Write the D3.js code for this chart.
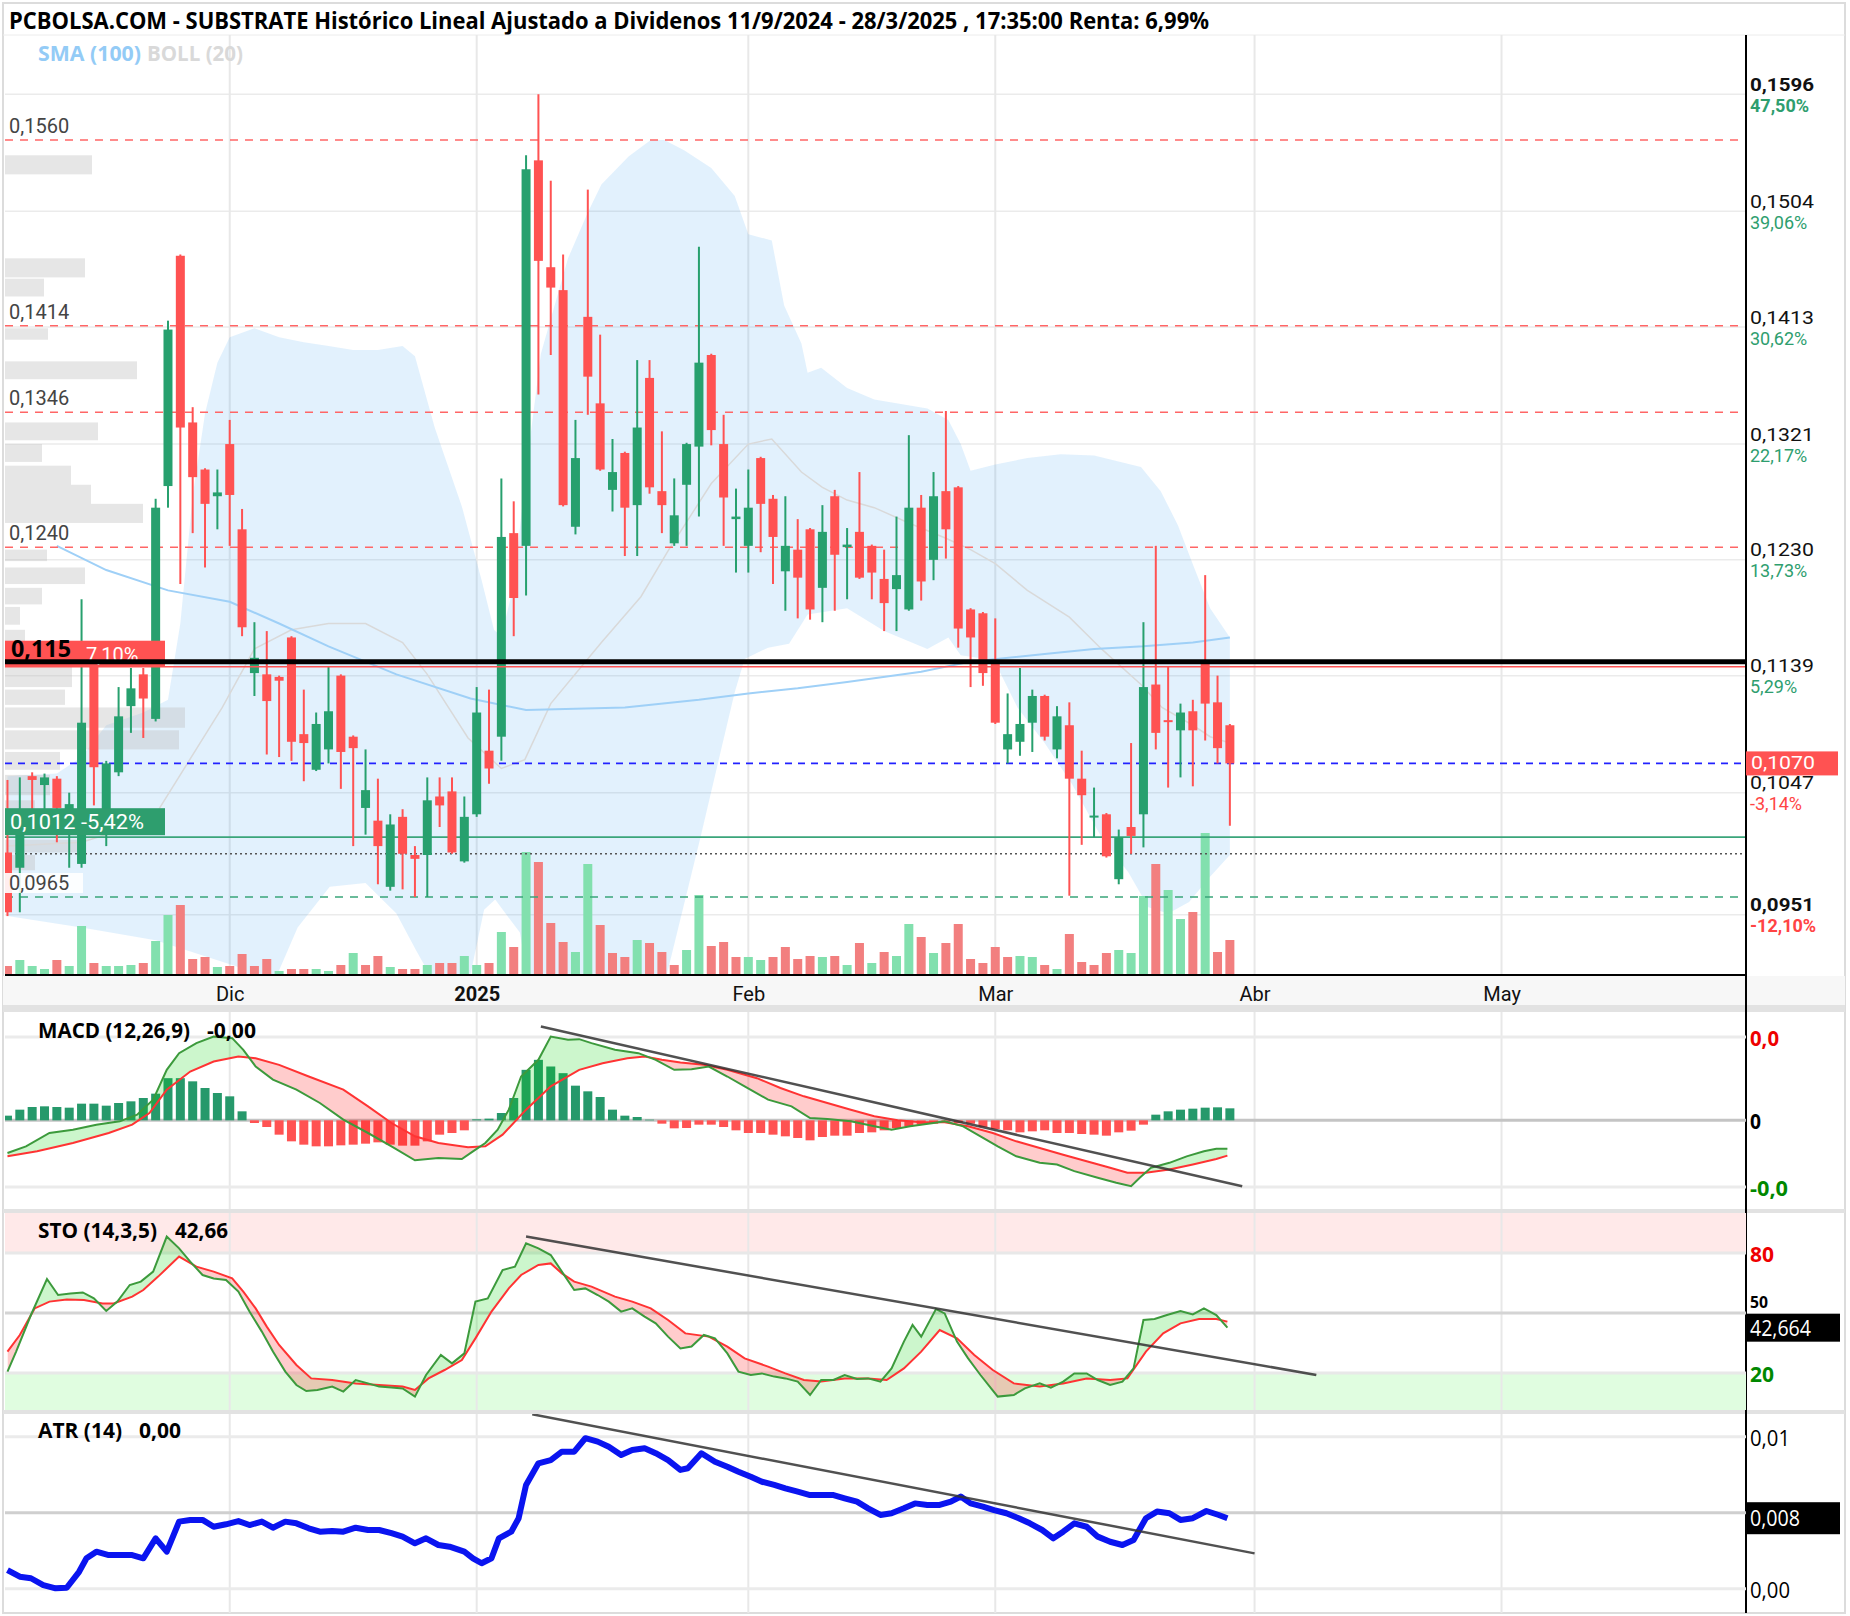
<!DOCTYPE html>
<html><head><meta charset="utf-8">
<script src="https://cdn.jsdelivr.net/npm/d3@7/dist/d3.min.js"></script>
<style>html,body{margin:0;padding:0;background:#fff}svg{display:block}</style>
</head><body>
<svg id="chart" width="1850" height="1616"></svg>
<script>
// ---------------- DATA ----------------
const titleText = "PCBOLSA.COM - SUBSTRATE Histórico Lineal Ajustado a Dividenos 11/9/2024 - 28/3/2025 , 17:35:00 Renta: 6,99%";
// trading-day index of first session of each month, and labels
const tickIdx = [18, 38, 60, 80, 101, 121];
const tickLab = ["Dic", "2025", "Feb", "Mar", "Abr", "May"];

const open = [.1000,.0988,.1060,.1053,.1058,.1030,.0991,.1148,.1015,.1063,
.1115,.1140,.1105,.1288,.1469,.1338,.1301,.1280,.1321,.1254,
.1141,.1140,.1138,.1169,.1093,.1065,.1081,.1139,.1091,.1035,
.1025,.0973,.1028,.0998,.0998,.1044,.1048,.0993,.1030,.1080,
.1091,.1251,.1241,.1544,.1460,.1442,.1256,.1421,.1353,.1285,
.1314,.1273,.1373,.1284,.1243,.1289,.1319,.1391,.1321,.1262,
.1241,.1310,.1278,.1221,.1238,.1254,.1208,.1280,.1240,.1252,
.1241,.1215,.1207,.1191,.1271,.1230,.1284,.1287,.1191,.1188,
.1151,.1081,.1087,.1102,.1123,.1081,.1100,.1058,.1028,.1030,
.0979,.1020,.1030,.1132,.1104,.1096,.1111,.1151,.1118,.1100];
const close = [.0953,.1020,.1057,.1059,.1035,.1038,.1102,.1067,.1070,.1107,
.1129,.1121,.1271,.1411,.1334,.1295,.1274,.1283,.1281,.1177,
.1153,.1119,.1135,.1087,.1086,.1101,.1111,.1079,.1082,.1049,
.1005,.1022,.0999,.0995,.1041,.1037,.1000,.1028,.1110,.1066,
.1248,.1200,.1537,.1465,.1444,.1273,.1310,.1374,.1301,.1299,
.1271,.1334,.1287,.1273,.1265,.1321,.1385,.1332,.1279,.1264,
.1271,.1274,.1248,.1241,.1216,.1191,.1252,.1234,.1242,.1216,
.1220,.1196,.1218,.1271,.1213,.1280,.1254,.1176,.1169,.1141,
.1102,.1093,.1101,.1123,.1091,.1107,.1058,.1045,.1029,.0997,
.1012,.1013,.1130,.1094,.1103,.1110,.1096,.1117,.1082,.1070];
const high = [.1057,.1059,.1063,.1062,.1060,.1047,.1199,.1152,.1072,.1130,
.1145,.1145,.1278,.1418,.1470,.1350,.1302,.1301,.1340,.1270,
.1181,.1174,.1139,.1170,.1128,.1110,.1146,.1140,.1092,.1081,
.1058,.1030,.1034,.1005,.1059,.1059,.1059,.1044,.1130,.1128,
.1294,.1276,.1548,.1596,.1528,.1470,.1340,.1521,.1407,.1325,
.1315,.1387,.1387,.1331,.1294,.1322,.1476,.1392,.1344,.1286,
.1301,.1311,.1281,.1280,.1262,.1255,.1273,.1285,.1255,.1299,
.1242,.1238,.1264,.1328,.1281,.1299,.1347,.1288,.1192,.1189,
.1184,.1125,.1145,.1128,.1124,.1115,.1118,.1080,.1051,.1031,
.1018,.1086,.1181,.1241,.1146,.1117,.1120,.1218,.1139,.1101];
const low = [.0950,.0953,.1030,.1020,.1008,.0988,.0988,.1037,.1005,.1060,
.1094,.1090,.1103,.1271,.1211,.1251,.1224,.1254,.1241,.1170,
.1123,.1077,.1075,.1072,.1056,.1064,.1070,.1050,.1005,.1014,
.0975,.0970,.0971,.0965,.0965,.1020,.0999,.0992,.1028,.1054,
.1072,.1170,.1202,.1360,.1391,.1272,.1250,.1344,.1300,.1268,
.1233,.1233,.1282,.1251,.1241,.1241,.1264,.1320,.1241,.1220,
.1220,.1236,.1211,.1190,.1184,.1183,.1181,.1190,.1199,.1215,
.1199,.1174,.1174,.1190,.1198,.1214,.1231,.1161,.1130,.1131,
.1101,.1070,.1076,.1079,.1088,.1074,.0966,.1006,.1012,.0996,
.0975,.0999,.1004,.1081,.1051,.1059,.1052,.1088,.1070,.1021];
const volume = [90000,150000,90000,60000,150000,90000,490000,120000,90000,90000,
100000,120000,340000,600000,700000,160000,180000,80000,90000,210000,
90000,160000,40000,60000,60000,60000,40000,100000,220000,100000,
190000,80000,60000,60000,100000,120000,120000,190000,100000,120000,
430000,280000,1230000,1130000,520000,330000,230000,1110000,500000,220000,
180000,350000,320000,230000,100000,250000,800000,290000,330000,180000,
180000,150000,180000,280000,160000,190000,180000,190000,100000,320000,
120000,230000,190000,510000,380000,220000,320000,510000,160000,120000,
280000,180000,190000,180000,100000,60000,410000,130000,100000,220000,
250000,220000,790000,1110000,850000,560000,630000,1420000,230000,350000];

// Bollinger (20) and SMA (100): [session index, price]
const bollUpper = [[0,.1060],[4,.1062],[6,.1075],[8,.1100],[11,.1110],[13,.1120],[14,.1180],[15,.1280],[16,.1345],[17,.1385],[18,.1405],[20,.1412],[22,.1405],[24,.1401],[26,.1398],[28,.1395],[30,.1395],[32,.1398],[33,.1390],[34.6,.1334],[36.8,.1272],[38.4,.1214],[39.4,.1175],[40,.1170],[41,.1210],[42,.1300],[43.2,.1392],[45.4,.1467],[47,.1503],[48.1,.1525],[50.3,.1547],[52.1,.1560],[53.2,.1560],[54.8,.1552],[57,.1538],[58.9,.1516],[60,.1486],[61.9,.1481],[62.9,.1430],[64.3,.1400],[64.8,.1377],[65.9,.1381],[68,.1365],[70.2,.1356],[74.5,.1349],[76.2,.1340],[77.2,.1321],[78,.1300],[80,.1305],[82.6,.1310],[85.3,.1313],[88,.1312],[91.8,.1303],[93.4,.1284],[94.8,.1257],[96.1,.1224],[97.4,.1192],[99,.1169]];
const bollLower = [[0,.0950],[6,.0941],[12,.0931],[18.7,.0910],[21,.0885],[23.5,.0941],[26.1,.0973],[29,.0976],[31.5,.0952],[33.1,.0923],[35,.0890],[37.3,.0895],[38.6,.0955],[39.5,.0963],[41.5,.0937],[42.5,.0880],[45,.0800],[48,.0770],[50,.0790],[52,.0850],[53.5,.0908],[56.2,.1015],[57.8,.1081],[58.9,.1126],[59.7,.1152],[61.6,.1161],[63.3,.1164],[64.8,.1187],[68,.1192],[71,.1174],[74.5,.1160],[76.2,.1169],[77.2,.1155],[79.9,.1151],[81.8,.1114],[84,.1086],[86.2,.1054],[88.6,.1012],[90.8,.0984],[92.4,.0957],[94,.0952],[95.7,.0961],[97.3,.0980],[99,.0998]];
const bollMid = [[0,.1005],[6,.1008],[10,.1020],[12,.1030],[17.4,.1114],[20,.1160],[23,.1175],[26,.1180],[29,.1180],[32,.1165],[34,.1140],[37.3,.1090],[40,.1066],[41.9,.1073],[44,.1117],[48.1,.1165],[51.3,.1201],[53.5,.1237],[57,.1290],[60,.1321],[61.9,.1325],[64.3,.1299],[66,.1287],[68,.1277],[70.2,.1271],[73,.1259],[76,.1247],[78,.1238],[80,.1227],[82.6,.1206],[86,.1185],[88.6,.1160],[91.8,.1132],[93.5,.1114],[96,.1100],[97.4,.1091],[99,.1086]];
const sma100 = [[4,.1241],[8,.1222],[13,.1206],[18,.1197],[22,.1180],[26,.1162],[31.5,.1140],[37.5,.1121],[42,.1112],[46,.1113],[50,.1114],[56,.1120],[60,.1125],[64,.1129],[68,.1134],[74,.1142],[78,.1150],[84,.1156],[88,.1160],[92,.1162],[96,.1165],[99,.1169]];

// volume profile on the left: price high, price low, relative volume
const vpHi  = [.1548,.1467,.1451,.1412,.1386,.1338,.1321,.1304,.1289,.1274,.1238,.1224,.1208,.1193,.1175,.1146,.1128,.1114,.1096,.1079,.1061,.1041,.1010,.0998];
const vpLo  = [.1533,.1452,.1437,.1403,.1372,.1324,.1307,.1289,.1274,.1259,.1229,.1211,.1195,.1179,.1162,.1130,.1116,.1098,.1081,.1065,.1045,.1029,.1000,.0986];
const vpVol = [87,80,39,43,132,93,37,66,86,138,42,80,37,15,20,67,60,180,174,55,45,30,79,30];

// horizontal levels
const resistanceLevels = [0.1560, 0.1414, 0.1346, 0.1240];
const supportLevels = [0.0965];
const keyLevel = 0.1150;          // thick black
const redLevel = 0.1146;          // "7,10%"
const greenLevel = 0.1012;        // "-5,42%"
const dottedLevel = 0.0999;
const lastPrice = 0.1070;

// right price axis
const priceTicks = [0.1596,0.1504,0.1413,0.1321,0.1230,0.1139,0.1047,0.0951];
const priceTickPct = ["47,50%","39,06%","30,62%","22,17%","13,73%","5,29%","-3,14%","-12,10%"];

// MACD (12,26,9), values in thousandths
const macdLine = [[0,-1.96],[1.5,-1.56],[3.4,-0.76],[5.3,-0.56],[7.2,-0.26],[9.1,-0.06],[10.5,0.34],[11.8,1.24],[12.9,3.03],[13.9,4.03],[15.3,4.63],[16.7,5.03],[18.2,4.93],[19.1,4.23],[20.1,3.23],[21.5,2.44],[23.4,1.84],[25.3,1.04],[27.2,0.04],[29.2,-0.76],[31.1,-1.56],[33,-2.40],[34.9,-2.26],[36.8,-2.32],[37.7,-1.86],[38.7,-1.36],[39.7,-0.56],[40.6,0.64],[41.6,2.63],[43,3.63],[44,5.03],[45.4,4.83],[46.3,4.87],[47.3,4.63],[49.2,4.23],[51.1,4.03],[52.5,3.63],[54,3.03],[55.4,3.07],[56.8,3.23],[58.3,2.63],[59.7,2.04],[61.6,1.24],[63.5,0.84],[65,0.14],[66.4,0.08],[68.3,-0.06],[70.2,-0.36],[71.6,-0.56],[73.1,-0.36],[75,-0.16],[75.9,-0.06],[77.4,-0.36],[78.8,-0.96],[80.2,-1.56],[81.7,-2.16],[83.6,-2.55],[85,-2.65],[86.4,-3.05],[88.3,-3.45],[89.8,-3.75],[91,-3.95],[91.7,-3.45],[92.6,-2.85],[94.1,-2.55],[95.5,-2.16],[96.9,-1.86],[97.9,-1.70],[98.8,-1.70]];
const macdSignal = [[0,-2.16],[2.4,-1.86],[5.3,-1.36],[8.2,-0.76],[10.1,-0.26],[11.5,0.44],[12.9,1.84],[14.8,2.93],[16.7,3.53],[18.7,3.83],[20.1,3.73],[22,3.33],[24.4,2.63],[27.2,1.84],[29.2,0.84],[31.1,-0.16],[33,-0.96],[34.9,-1.36],[37.3,-1.62],[38.7,-1.56],[40.1,-0.86],[42,0.64],[44,2.04],[46.3,3.03],[48.2,3.43],[50.2,3.73],[51.6,3.83],[53,3.63],[54.5,3.47],[56.4,3.33],[58.3,3.03],[60.7,2.53],[62.6,1.94],[64.5,1.44],[66.4,1.04],[68.3,0.64],[70.2,0.24],[72.1,0.00],[74,-0.12],[75.9,-0.12],[77.8,-0.36],[79.8,-0.76],[81.7,-1.26],[83.6,-1.66],[85.5,-2.06],[87.4,-2.46],[89.3,-2.85],[90.7,-3.15],[92.2,-3.15],[94.1,-2.95],[96,-2.65],[97.9,-2.32],[98.8,-2.12]];
const macdHist = [0.28,0.64,0.80,0.84,0.80,0.76,1.00,1.00,0.88,1.04,
1.14,1.34,1.60,2.53,2.53,2.34,1.94,1.64,1.44,0.54,
-0.16,-0.40,-0.86,-1.26,-1.46,-1.56,-1.56,-1.50,-1.46,-1.40,
-1.32,-1.46,-1.52,-1.52,-1.26,-0.86,-0.76,-0.60,0.06,0.10,
0.44,1.34,3.03,3.63,3.23,2.83,2.08,1.74,1.40,0.64,
0.28,0.20,0.04,-0.20,-0.48,-0.46,-0.26,-0.26,-0.40,-0.60,
-0.76,-0.76,-0.86,-0.96,-1.06,-1.20,-1.00,-0.92,-0.92,-0.76,
-0.72,-0.60,-0.46,-0.36,-0.26,-0.20,-0.12,-0.16,-0.20,-0.40,
-0.52,-0.60,-0.72,-0.66,-0.60,-0.76,-0.76,-0.82,-0.86,-0.92,
-0.72,-0.62,-0.26,0.34,0.54,0.64,0.70,0.76,0.78,0.72];
const macdTrend = [[43.2,5.63],[100,-3.95]];
const macdGrid = [5, 0, -4];
const macdGridLab = ["0,0", "0", "-0,0"];

// Stochastic (14,3,5)
const stoK = [[0,20.7],[0.7,30.7],[1.9,49.0],[3.2,67.0],[4.1,59.0],[5.1,59.8],[6.1,60.3],[7,57.3],[8,51.0],[8.9,55.7],[9.9,64.0],[10.8,65.7],[11.8,70.7],[12.9,88.2],[13.9,82.3],[14.8,75.7],[15.8,69.0],[16.7,67.3],[17.7,66.5],[18.7,60.7],[19.6,50.7],[20.6,40.7],[21.5,30.7],[22.5,20.7],[23.4,14.0],[24.2,11.0],[25.1,11.5],[26.3,13.2],[27.2,10.7],[28.2,16.5],[29.2,14.8],[30.1,13.2],[31.1,12.7],[32,12.3],[33,8.2],[33.9,19.0],[35.1,29.0],[36,24.8],[37,29.8],[37.9,55.7],[38.9,57.3],[40.1,71.5],[41.1,73.2],[42,84.8],[43,82.3],[44,79.0],[44.9,70.7],[45.9,61.5],[46.8,62.3],[47.8,59.0],[48.7,55.7],[49.7,50.7],[50.6,52.3],[51.6,48.2],[52.5,44.8],[53.5,38.2],[54.5,32.3],[55.4,33.2],[56.4,39.0],[57.3,37.3],[58.3,29.8],[59.2,20.7],[60.2,19.0],[61.1,19.8],[62.1,18.2],[63,17.3],[64,15.7],[65,9.0],[65.9,16.5],[66.9,16.5],[67.8,19.0],[68.8,17.0],[69.7,17.3],[70.7,15.7],[71.6,22.3],[72.6,35.7],[73.3,44.0],[74,38.2],[75.2,52.0],[75.9,49.8],[76.9,35.7],[77.8,27.3],[78.8,19.0],[80.2,8.2],[81.5,9.0],[82.4,12.3],[83.6,14.8],[84.5,12.7],[85.5,15.7],[86.4,19.8],[87.4,19.8],[88.3,16.5],[89.3,14.0],[90.3,15.7],[91.2,22.3],[92,46.5],[92.9,47.0],[93.9,49.0],[95,51.0],[96,49.3],[96.9,52.3],[97.9,49.0],[98.8,42.7]];
const stoD = [[0,30.7],[1,39.0],[2.2,52.3],[3.4,55.7],[4.8,56.8],[6.2,56.5],[7.7,54.8],[8.6,54.8],[10.1,58.2],[11,61.5],[12.2,68.2],[13.9,78.2],[15.3,73.2],[16.7,70.7],[18.2,67.3],[19.1,60.7],[20.1,52.3],[21,43.2],[22,34.0],[23.4,24.0],[24.6,17.3],[26.3,16.5],[28.2,14.8],[30.1,14.0],[32,13.2],[33,11.5],[34.1,17.3],[35.4,21.5],[36.8,26.5],[37.9,37.3],[39.2,50.7],[40.6,62.3],[41.6,69.0],[43,74.0],[44,74.8],[44.9,69.8],[45.9,65.7],[47.3,63.2],[49.2,58.2],[50.6,55.7],[52.1,52.3],[53.5,46.5],[54.9,39.8],[56.8,38.2],[58.3,33.2],[59.7,27.3],[61.6,23.2],[63,19.8],[64.5,16.5],[65.9,15.7],[67.8,17.3],[69.7,17.3],[71.2,16.5],[72.6,22.3],[74,30.7],[75.5,41.5],[76.9,37.3],[78.3,29.0],[79.8,21.5],[81.5,14.8],[83.6,13.2],[85.5,14.8],[87.4,17.3],[89.3,16.5],[90.7,17.3],[92.2,30.7],[93.6,39.8],[95,44.8],[96.5,47.0],[97.9,47.0],[98.8,45.7]];
const stoTrend = [[42,88.2],[106,19]];
const stoGrid = [80, 50, 20];
const stoGridLab = ["80", "50", "20"];

// ATR (14)
const atr = [[0,.00498],[1,.00463],[1.9,.00455],[2.9,.00419],[3.9,.00402],[4.8,.00405],[5.8,.00489],[6.4,.00560],[7.2,.00595],[8.2,.00577],[9.1,.00577],[10.1,.00577],[11,.00560],[12,.00665],[12.9,.00595],[13.9,.00753],[14.8,.00762],[15.8,.00762],[16.7,.00726],[17.7,.00739],[18.7,.00756],[19.6,.00735],[20.6,.00753],[21.5,.00721],[22.5,.00753],[23.4,.00744],[24.4,.00718],[25.3,.00700],[26.3,.00704],[27.2,.00700],[28.2,.00721],[29.2,.00709],[30.1,.00709],[31.1,.00692],[32,.00674],[33,.00639],[33.9,.00665],[34.9,.00630],[35.8,.00621],[37,.00595],[37.7,.00560],[38.4,.00534],[39.2,.00560],[39.8,.00665],[40.8,.00700],[41.4,.00771],[42,.00946],[43,.01060],[44,.01077],[44.9,.01121],[45.9,.01121],[46.8,.01192],[47.8,.01174],[48.7,.01147],[49.7,.01104],[50.6,.01130],[51.6,.01139],[52.5,.01113],[53.5,.01077],[54.5,.01025],[55.1,.01034],[56.2,.01113],[57.3,.01068],[58.3,.01042],[59.2,.01016],[60.2,.00989],[61.1,.00963],[62.1,.00946],[63,.00928],[64,.00911],[65,.00893],[65.9,.00893],[66.9,.00893],[67.8,.00876],[68.8,.00858],[69.7,.00823],[70.7,.00788],[71.6,.00797],[72.6,.00823],[73.5,.00849],[74.5,.00841],[75.5,.00841],[76.4,.00858],[77.2,.00885],[78,.00849],[79,.00832],[79.9,.00814],[80.9,.00797],[81.9,.00771],[82.8,.00744],[83.8,.00709],[84.7,.00665],[85.5,.00700],[86.4,.00744],[87.4,.00726],[88.3,.00674],[89.3,.00647],[90.3,.00630],[91.2,.00656],[92.2,.00771],[93.1,.00806],[94.1,.00797],[95,.00762],[96,.00771],[97.1,.00809],[98.1,.00788],[98.8,.00771]];
const atrTrend = [[42.5,.01318],[101,.00586]];
const atrGrid = [0.012, 0.008, 0.004];
const atrGridLab = ["0,01", "", "0,00"];

// ---------------- DRAW ----------------
const svg = d3.select('#chart');
const defs = svg.append('defs');
const L = 5, R = 1746;
const GREEN = '#27a06e', RED = '#ff5252';
const fmt4 = d3.formatLocale({decimal: ",", thousands: ".", grouping: [3], currency: ["", "€"]}).format(".4f");

const xS = d3.scaleLinear().domain([-0.2, 140.8]).range([L, R]);
const yP = d3.scaleLinear().domain([0.1560, 0.0965]).range([140, 897]);
const yV = d3.scaleLinear().domain([0, 1500000]).range([975, 825]);
const wVP = d3.scaleLinear().domain([0, 180]).range([0, 180]);
const yM = d3.scaleLinear().domain([5, -4]).range([1037, 1187]);
const yS = d3.scaleLinear().domain([100, 0]).range([1213, 1413]);
const yA = d3.scaleLinear().domain([0.012, 0.004]).range([1436.7, 1588.7]);

function clip(id, x, y, w, h) {
  defs.append('clipPath').attr('id', id).append('rect').attr('x', x).attr('y', y).attr('width', w).attr('height', h);
}
clip('cMain', L, 35, R - L, 940);
clip('cMacd', L, 1012, R - L, 197);
clip('cSto', L, 1213, R - L, 197);
clip('cAtr', L, 1414, R - L, 199);

function txt(g, x, y, s, o) {
  o = o || {};
  const t = g.append('text').attr('x', x).attr('y', y).text(s)
    .attr('font-family', o.ff || 'Roboto, sans-serif')
    .attr('font-size', o.fs || 20)
    .attr('font-weight', o.fw || 'normal')
    .attr('fill', o.fill || '#000')
    .attr('dominant-baseline', 'central')
    .attr('text-anchor', o.ta || 'start');
  if (o.tl) t.attr('textLength', o.tl).attr('lengthAdjust', 'spacingAndGlyphs');
  return t;
}
const COND = "'Open Sans', 'DejaVu Sans', sans-serif";

// background & frame
svg.append('rect').attr('x', 0).attr('y', 0).attr('width', 1850).attr('height', 1616).attr('fill', '#fff');
svg.append('rect').attr('x', 3).attr('y', 3).attr('width', 1842).attr('height', 1610).attr('fill', 'none').attr('stroke', '#dcdcdc').attr('stroke-width', 2);

// title
txt(svg, 9, 20, titleText, {ff: COND, fw: 'bold', fs: 23, tl: 1200});
svg.append('line').attr('x1', 3).attr('x2', 1845).attr('y1', 35).attr('y2', 35).attr('stroke', '#ececec').attr('stroke-width', 1);

// x-axis label row and panel separators
svg.append('rect').attr('x', 3).attr('y', 976).attr('width', 1842).attr('height', 29).attr('fill', '#f7f7f7');
[[1005, 7], [1209, 4], [1410, 4]].forEach(s => {
  svg.append('rect').attr('x', 3).attr('y', s[0]).attr('width', 1842).attr('height', s[1]).attr('fill', '#e2e2e2');
});

// ---------- main panel ----------
const main = svg.append('g').attr('clip-path', 'url(#cMain)');
main.selectAll('.hg').data(priceTicks).enter().append('line')
  .attr('x1', L).attr('x2', R).attr('y1', d => yP(d)).attr('y2', d => yP(d))
  .attr('stroke', '#ebebeb').attr('stroke-width', 1.5);
function vgrid(g, y1, y2) {
  g.selectAll(null).data(tickIdx).enter().append('line')
    .attr('x1', d => xS(d)).attr('x2', d => xS(d)).attr('y1', y1).attr('y2', y2)
    .attr('stroke', '#e8e8e8').attr('stroke-width', 2);
}
vgrid(main, 35, 975);

// Bollinger band fill
const bandPts = bollUpper.map(d => [xS(d[0]), yP(d[1])])
  .concat(bollLower.slice().reverse().map(d => [xS(d[0]), yP(d[1])]));
main.append('path').attr('d', d3.line()(bandPts) + 'Z').attr('fill', 'rgba(33,150,243,0.13)');

// volume profile
main.selectAll('.vp').data(vpVol).enter().append('rect')
  .attr('x', L).attr('y', (d, i) => yP(vpHi[i]))
  .attr('width', d => wVP(d)).attr('height', (d, i) => yP(vpLo[i]) - yP(vpHi[i]))
  .attr('fill', 'rgba(190,190,190,0.38)');

// Bollinger middle & SMA100
const lineP = d3.line().x(d => xS(d[0])).y(d => yP(d[1]));
main.append('path').attr('d', lineP(bollMid)).attr('fill', 'none').attr('stroke', '#d9d9d9').attr('stroke-width', 1.5);
main.append('path').attr('d', lineP(sma100)).attr('fill', 'none').attr('stroke', '#9fd0f7').attr('stroke-width', 2);

// volume bars
main.selectAll('.vol').data(volume).enter().append('rect')
  .attr('x', (d, i) => xS(i) - 4.5).attr('width', 9)
  .attr('y', d => yV(d)).attr('height', d => yV(0) - yV(d))
  .attr('fill', (d, i) => close[i] >= (i ? close[i - 1] : open[i]) ? '#82e0ae' : '#f27f7f');

// level lines
main.selectAll('.res').data(resistanceLevels).enter().append('line')
  .attr('x1', L).attr('x2', R).attr('y1', d => yP(d)).attr('y2', d => yP(d))
  .attr('stroke', '#ff6666').attr('stroke-width', 1.5).attr('stroke-dasharray', '8,7');
main.selectAll('.sup').data(supportLevels).enter().append('line')
  .attr('x1', L).attr('x2', R).attr('y1', d => yP(d)).attr('y2', d => yP(d))
  .attr('stroke', '#3aa57a').attr('stroke-width', 1.5).attr('stroke-dasharray', '8,7');
function hline(p, col, w, dash) {
  const l = main.append('line').attr('x1', L).attr('x2', R).attr('y1', yP(p)).attr('y2', yP(p))
    .attr('stroke', col).attr('stroke-width', w);
  if (dash) l.attr('stroke-dasharray', dash);
}
hline(lastPrice, '#2222ff', 1.8, '7,6');
hline(greenLevel, '#3aa57a', 1.8);
hline(dottedLevel, '#555', 1.5, '2,3');

// candles
const cg = main.append('g');
d3.range(open.length).forEach(i => {
  const col = close[i] >= open[i] ? GREEN : RED;
  cg.append('line').attr('x1', xS(i)).attr('x2', xS(i)).attr('y1', yP(high[i])).attr('y2', yP(low[i]))
    .attr('stroke', col).attr('stroke-width', 2);
  const top = yP(Math.max(open[i], close[i])), bot = yP(Math.min(open[i], close[i]));
  cg.append('rect').attr('x', xS(i) - 4.5).attr('width', 9).attr('y', top).attr('height', Math.max(2, bot - top)).attr('fill', col);
});

hline(redLevel, '#ff5252', 1.5);

// left labels for levels
resistanceLevels.concat(supportLevels).forEach(p => {
  main.append('rect').attr('x', L).attr('y', yP(p) - 24).attr('width', 78).attr('height', 20).attr('fill', '#fff').attr('opacity', 0.9);
  txt(main, 9, yP(p) - 14, fmt4(p), {fs: 20, fill: '#444'});
});
// red "7,10%" box with black "0,115"
main.append('rect').attr('x', L).attr('y', yP(redLevel) - 26).attr('width', 160).attr('height', 26).attr('fill', RED);
txt(main, 86, yP(redLevel) - 12, "7,10%", {fs: 20, fill: '#fff'});
main.append('line').attr('x1', L).attr('x2', R).attr('y1', yP(keyLevel)).attr('y2', yP(keyLevel)).attr('stroke', '#000').attr('stroke-width', 5);
txt(main, 11, yP(keyLevel) - 14, "0,115", {ff: COND, fw: 'bold', fs: 23, tl: 60});
// green box
main.append('rect').attr('x', L).attr('y', yP(greenLevel) - 29).attr('width', 160).attr('height', 27).attr('fill', '#2e9e6e');
txt(main, 10, yP(greenLevel) - 15, fmt4(greenLevel) + "  -5,42%", {fs: 21, fill: '#fff', tl: 134});

// legend
txt(svg, 38, 52, "SMA (100)", {ff: COND, fw: 'bold', fs: 22, fill: '#93cbf6', tl: 103});
txt(svg, 147, 52, "BOLL (20)", {ff: COND, fw: 'bold', fs: 22, fill: '#d9d9d9', tl: 96});

// x axis
svg.append('line').attr('x1', L).attr('x2', R).attr('y1', 975).attr('y2', 975).attr('stroke', '#000').attr('stroke-width', 2);
const xAxis = d3.axisBottom(xS).tickValues(tickIdx).tickFormat((d, i) => tickLab[i]).tickSize(0).tickPadding(0);
const xg = svg.append('g').attr('transform', 'translate(0,986)').call(xAxis);
xg.select('.domain').remove();
xg.selectAll('text').attr('font-family', 'Roboto, sans-serif').attr('font-size', 20).attr('fill', '#111')
  .attr('dy', '0.75em').attr('font-weight', (d, i) => tickLab[i] === '2025' ? 'bold' : 'normal');

// right axis
svg.append('line').attr('x1', R).attr('x2', R).attr('y1', 35).attr('y2', 1613).attr('stroke', '#000').attr('stroke-width', 2);
priceTicks.forEach((p, i) => {
  const edge = (i === 0 || i === priceTicks.length - 1);
  txt(svg, 1750, yP(p) - 10, fmt4(p), {fs: 18, fw: edge ? 'bold' : 'normal', fill: '#111', tl: 64});
  txt(svg, 1750, yP(p) + 11, priceTickPct[i], {fs: 18, fw: edge ? 'bold' : 'normal', fill: priceTickPct[i][0] === '-' ? '#ff4444' : '#2e9e6e'});
});
svg.append('rect').attr('x', R).attr('y', yP(lastPrice) - 12).attr('width', 92).attr('height', 24).attr('fill', RED);
txt(svg, 1751, yP(lastPrice) - 1, fmt4(lastPrice), {fs: 18, fill: '#fff', tl: 64});

// ---------- helper: fill between two lines ----------
function fillBetween(g, A, B, ys, top, bot, id) {
  const below = arr => d3.area().x(d => xS(d[0])).y0(bot).y1(d => ys(d[1]))(arr);
  const above = arr => d3.area().x(d => xS(d[0])).y0(top).y1(d => ys(d[1]))(arr);
  defs.append('clipPath').attr('id', id + 'a').append('path').attr('d', above(B));
  defs.append('clipPath').attr('id', id + 'b').append('path').attr('d', above(A));
  g.append('path').attr('d', below(A)).attr('fill', 'rgba(0,210,0,0.2)').attr('clip-path', `url(#${id}a)`);
  g.append('path').attr('d', below(B)).attr('fill', 'rgba(255,0,0,0.2)').attr('clip-path', `url(#${id}b)`);
}

// ---------- MACD ----------
const mg = svg.append('g').attr('clip-path', 'url(#cMacd)');
vgrid(mg, 1012, 1209);
mg.selectAll(null).data(macdGrid).enter().append('line')
  .attr('x1', L).attr('x2', R).attr('y1', d => yM(d)).attr('y2', d => yM(d))
  .attr('stroke', d => d === 0 ? '#c4c4c4' : '#ebebeb').attr('stroke-width', 3);
mg.selectAll('.hb').data(macdHist).enter().append('rect')
  .attr('x', (d, i) => xS(i) - 4.5).attr('width', 9)
  .attr('y', d => Math.min(yM(d), yM(0))).attr('height', d => Math.abs(yM(d) - yM(0)))
  .attr('fill', d => d >= 0 ? '#26996b' : '#ff5252');
fillBetween(mg, macdLine, macdSignal, yM, 1012, 1209, 'fm');
const lineM = d3.line().x(d => xS(d[0])).y(d => yM(d[1]));
mg.append('path').attr('d', lineM(macdSignal)).attr('fill', 'none').attr('stroke', '#ff3333').attr('stroke-width', 2);
mg.append('path').attr('d', lineM(macdLine)).attr('fill', 'none').attr('stroke', '#3c9a3c').attr('stroke-width', 2);
mg.append('path').attr('d', lineM(macdTrend)).attr('stroke', '#333').attr('stroke-width', 2.5).attr('opacity', 0.85);
txt(svg, 38, 1030, "MACD (12,26,9)", {ff: COND, fw: 'bold', fs: 21, tl: 152});
txt(svg, 207, 1030, "-0,00", {ff: COND, fw: 'bold', fs: 21, tl: 49});
macdGrid.forEach((v, i) => {
  txt(svg, 1750, yM(v), macdGridLab[i], {ff: COND, fw: 'bold', fs: 22, fill: ['#ee0000', '#000', '#008800'][i], tl: [29, 11, 38][i]});
});

// ---------- STO ----------
const sg = svg.append('g').attr('clip-path', 'url(#cSto)');
sg.append('rect').attr('x', L).attr('y', yS(100)).attr('width', R - L).attr('height', yS(80) - yS(100)).attr('fill', '#ffe9e9');
sg.append('rect').attr('x', L).attr('y', yS(20)).attr('width', R - L).attr('height', yS(0) - yS(20)).attr('fill', '#e0fde0');
vgrid(sg, 1213, 1410);
sg.selectAll(null).data(stoGrid).enter().append('line')
  .attr('x1', L).attr('x2', R).attr('y1', d => yS(d)).attr('y2', d => yS(d))
  .attr('stroke', d => d === 50 ? '#d4d4d4' : '#e8e8e8').attr('stroke-width', 3);
fillBetween(sg, stoK, stoD, yS, 1213, 1413, 'fs');
const lineS = d3.line().x(d => xS(d[0])).y(d => yS(d[1]));
sg.append('path').attr('d', lineS(stoD)).attr('fill', 'none').attr('stroke', '#ff3333').attr('stroke-width', 2);
sg.append('path').attr('d', lineS(stoK)).attr('fill', 'none').attr('stroke', '#3c9a3c').attr('stroke-width', 2);
sg.append('path').attr('d', lineS(stoTrend)).attr('stroke', '#333').attr('stroke-width', 2.5).attr('opacity', 0.85);
txt(svg, 38, 1230, "STO (14,3,5)", {ff: COND, fw: 'bold', fs: 21, tl: 119});
txt(svg, 175, 1230, "42,66", {ff: COND, fw: 'bold', fs: 21, tl: 53});
stoGrid.forEach((v, i) => {
  const isMid = v === 50;
  txt(svg, 1750, isMid ? yS(v) - 11 : yS(v), stoGridLab[i], {ff: COND, fw: 'bold', fs: isMid ? 16 : 22, fill: ['#ee0000', '#000', '#008800'][i], tl: isMid ? 18 : 24});
});
svg.append('rect').attr('x', R).attr('y', yS(42.66) - 14).attr('width', 94).attr('height', 28).attr('fill', '#000');
txt(svg, 1750, yS(42.66), "42,664", {ff: COND, fs: 21, fill: '#fff', tl: 61});

// ---------- ATR ----------
const ag = svg.append('g').attr('clip-path', 'url(#cAtr)');
vgrid(ag, 1414, 1613);
ag.selectAll(null).data(atrGrid).enter().append('line')
  .attr('x1', L).attr('x2', R).attr('y1', d => yA(d)).attr('y2', d => yA(d))
  .attr('stroke', d => d === 0.008 ? '#cfcfcf' : '#ebebeb').attr('stroke-width', 3);
const lineA = d3.line().x(d => xS(d[0])).y(d => yA(d[1]));
ag.append('path').attr('d', lineA(atr)).attr('fill', 'none').attr('stroke', '#0a14f0').attr('stroke-width', 6).attr('stroke-linejoin', 'round');
ag.append('path').attr('d', lineA(atrTrend)).attr('stroke', '#333').attr('stroke-width', 2.5).attr('opacity', 0.85);
txt(svg, 38, 1430, "ATR (14)", {ff: COND, fw: 'bold', fs: 21, tl: 84});
txt(svg, 139, 1430, "0,00", {ff: COND, fw: 'bold', fs: 21, tl: 42});
atrGrid.forEach((v, i) => {
  if (atrGridLab[i]) txt(svg, 1750, yA(v), atrGridLab[i], {ff: COND, fw: 'normal', fs: 22, fill: '#000', tl: 40});
});
svg.append('rect').attr('x', R).attr('y', yA(0.00771) - 16).attr('width', 94).attr('height', 32).attr('fill', '#000');
txt(svg, 1750, yA(0.00771), "0,008", {ff: COND, fs: 21, fill: '#fff', tl: 50});
</script>
</body></html>
